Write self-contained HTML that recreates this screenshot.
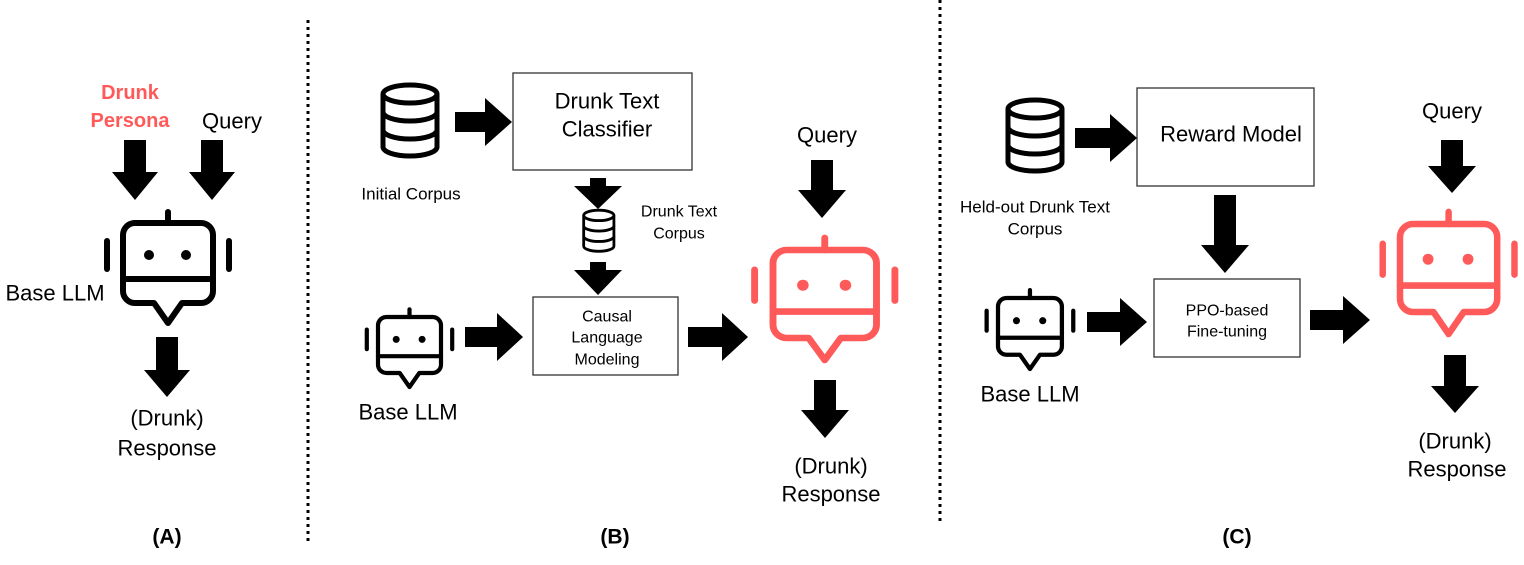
<!DOCTYPE html>
<html><head><meta charset="utf-8"><style>
body{margin:0;background:#fff}
svg text{font-family:"Liberation Sans",sans-serif;fill:#000}
</style></head><body>
<svg width="1524" height="560" viewBox="0 0 1524 560" xmlns="http://www.w3.org/2000/svg">
<defs>
<g id="robot" fill="none" stroke-width="6" stroke-linecap="round" stroke-linejoin="round">
<path d="M12,0 H78 A12 12 0 0 1 90 12 V68 A12 12 0 0 1 78 80 H59 L45 100 L31 80 H12 A12 12 0 0 1 0 68 V12 A12 12 0 0 1 12 0 Z"/>
<line x1="45" y1="-11" x2="45" y2="0"/>
<line x1="-16" y1="18" x2="-16" y2="46"/>
<line x1="106" y1="18" x2="106" y2="46"/>
<line x1="0" y1="56" x2="90" y2="56"/>
<circle cx="26" cy="32" r="5" stroke="none" fill="currentColor"/>
<circle cx="63" cy="32" r="5" stroke="none" fill="currentColor"/>
</g>
<g id="db" fill="none" stroke="#000" stroke-width="5">
<ellipse cx="30" cy="11" rx="27" ry="9"/>
<path d="M3,11 V64 A27 9 0 0 0 57 64 V11"/>
<path d="M3,29 A27 9 0 0 0 57 29"/>
<path d="M3,47 A27 9 0 0 0 57 47"/>
</g>
</defs>

<line x1="308" y1="20" x2="308" y2="545" stroke="#000" stroke-width="3" stroke-dasharray="3,4"/>
<line x1="940" y1="0" x2="940" y2="522" stroke="#000" stroke-width="3" stroke-dasharray="3,4"/>

<g stroke="#000" color="#000"><use href="#robot" transform="translate(123,223)"/></g>
<g stroke="#000" color="#000"><use href="#robot" transform="translate(378,317) scale(0.7)"/></g>
<g stroke="#ff5a5a" color="#ff5a5a"><use href="#robot" transform="translate(773,250) scale(1.15,1.1)"/></g>
<g stroke="#000" color="#000"><use href="#robot" transform="translate(998,298) scale(0.71)"/></g>
<g stroke="#ff5a5a" color="#ff5a5a"><use href="#robot" transform="translate(1400,224) scale(1.08,1.1)"/></g>

<use href="#db" transform="translate(380,83)"/>
<use href="#db" transform="translate(582,209) scale(0.56,0.58)"/>
<use href="#db" transform="translate(1005,98)"/>

<g fill="none" stroke="#333" stroke-width="1.3">
<rect x="513" y="73" width="179" height="97"/>
<rect x="533" y="297" width="145" height="78"/>
<rect x="1137" y="88" width="177" height="98"/>
<rect x="1154" y="279" width="146" height="78"/>
</g>

<g fill="#000">
<polygon points="124,140 146,140 146,172 158,172 135,200 112,172 124,172"/>
<polygon points="201,140 223,140 223,172 235,172 212,200 189,172 201,172"/>
<polygon points="156,337 178,337 178,370 190,370 167,397 144,370 156,370"/>
<polygon points="590,178 606,178 606,186 622,186 598,209 574,186 590,186"/>
<polygon points="590,262 606,262 606,270 622,270 598,295 574,270 590,270"/>
<polygon points="811,160 833,160 833,190 846,190 822,218 798,190 811,190"/>
<polygon points="814,380 836,380 836,410 849,410 825,438 801,410 814,410"/>
<polygon points="1214,195 1236,195 1236,245 1249,245 1225,273 1201,245 1214,245"/>
<polygon points="1441,140 1463,140 1463,166 1476,166 1452,193 1428,166 1441,166"/>
<polygon points="1444,355 1466,355 1466,386 1479,386 1455,413 1431,386 1444,386"/>
<polygon points="455,112 485,112 485,98 512,122 485,146 485,132 455,132"/>
<polygon points="465,327 497,327 497,313 523,337 497,361 497,347 465,347"/>
<polygon points="688,327 722,327 722,313 748,337 722,361 722,347 688,347"/>
<polygon points="1075,128 1110,128 1110,114 1137,138 1110,162 1110,148 1075,148"/>
<polygon points="1087,312 1120,312 1120,298 1147,322 1120,346 1120,332 1087,332"/>
<polygon points="1310,310 1343,310 1343,296 1370,320 1343,344 1343,330 1310,330"/>
</g>

<g dominant-baseline="central" text-anchor="middle" font-size="22">
<text x="130" y="93" font-weight="bold" style="fill:#ff5a5a" font-size="20">Drunk</text>
<text x="130" y="121" font-weight="bold" style="fill:#ff5a5a" font-size="20">Persona</text>
<text x="232" y="121">Query</text>
<text x="55" y="293">Base LLM</text>
<text x="167" y="418">(Drunk)</text>
<text x="167" y="448">Response</text>
<text x="167" y="537" font-weight="bold" font-size="21">(A)</text>

<text x="607" y="101">Drunk Text</text>
<text x="607" y="129">Classifier</text>
<text x="411" y="194" font-size="17">Initial Corpus</text>
<text x="679" y="212" font-size="16">Drunk Text</text>
<text x="679" y="234" font-size="16">Corpus</text>
<text x="607" y="317" font-size="16">Causal</text>
<text x="607" y="338" font-size="16">Language</text>
<text x="607" y="360" font-size="16">Modeling</text>
<text x="408" y="412">Base LLM</text>
<text x="827" y="135">Query</text>
<text x="831" y="466">(Drunk)</text>
<text x="831" y="494">Response</text>
<text x="615" y="537" font-weight="bold" font-size="21">(B)</text>

<text x="1231" y="134">Reward Model</text>
<text x="1035" y="207" font-size="17">Held-out Drunk Text</text>
<text x="1035" y="229" font-size="17">Corpus</text>
<text x="1227" y="311" font-size="16">PPO-based</text>
<text x="1227" y="332" font-size="16">Fine-tuning</text>
<text x="1030" y="394">Base LLM</text>
<text x="1452" y="111">Query</text>
<text x="1455" y="441">(Drunk)</text>
<text x="1457" y="469">Response</text>
<text x="1237" y="537" font-weight="bold" font-size="21">(C)</text>
</g>
</svg>
</body></html>
